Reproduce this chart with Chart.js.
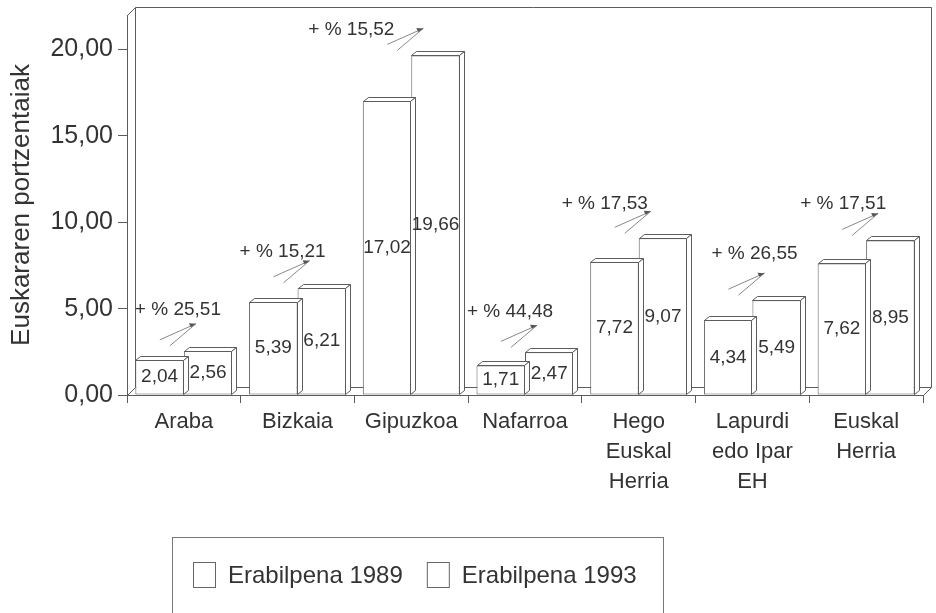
<!DOCTYPE html>
<html><head><meta charset="utf-8">
<script src="https://cdn.jsdelivr.net/npm/chart.js@4/dist/chart.umd.min.js"></script>
<style>html,body{margin:0;padding:0;background:#fff;overflow:hidden}#wrap{width:936px;height:613px}</style>
</head><body><div id="wrap"><canvas id="c" width="936" height="613"></canvas></div>
<script>
const categories = [['Araba'], ['Bizkaia'], ['Gipuzkoa'], ['Nafarroa'], ['Hego', 'Euskal', 'Herria'], ['Lapurdi', 'edo Ipar', 'EH'], ['Euskal', 'Herria']];
const seriesLabels = ['Erabilpena 1989', 'Erabilpena 1993'];
const use1989 = [2.04, 5.39, 17.02, 1.71, 7.72, 4.34, 7.62];
const use1993 = [2.56, 6.21, 19.66, 2.47, 9.07, 5.49, 8.95];
const growth = [25.51, 15.21, 15.52, 44.48, 17.53, 26.55, 17.51];
const yTicks = [0, 5, 10, 15, 20];
const yTitle = 'Euskararen portzentaiak';

const FONT = '"Liberation Sans", Arial, Helvetica, sans-serif';
const TEXT = '#333333';
const LINE = '#5c5c5c';
const fmt = v => v.toFixed(2).replace('.', ',');

// layout-only nudges for the growth annotations (pixels, relative to group centre / taller bar top)
const noteNudge = {
  dx: [-49, -58, -103, -58, -77, -41, -66],
  dy: [-41, -36, -26, -41, -35, -46, -37]
};
const wall = {dx: 8, dy: 8};
const depth = {dx: 5, dy: 4};

const pseudo3d = {
  id: 'pseudo3d',
  beforeDatasetsDraw(chart) {
    const {ctx, chartArea: a} = chart;
    const L = Math.round(a.left) + 0.5, R = Math.round(a.right) + 0.5, T = Math.round(a.top) + 0.5, B = Math.round(a.bottom) + 0.5;
    ctx.save();
    ctx.strokeStyle = LINE; ctx.lineWidth = 1;
    ctx.beginPath();
    ctx.moveTo(L, T); ctx.lineTo(L + wall.dx, T - wall.dy); ctx.lineTo(R + wall.dx, T - wall.dy); ctx.lineTo(R + wall.dx, B - wall.dy);
    ctx.moveTo(L + wall.dx, T - wall.dy); ctx.lineTo(L + wall.dx, B - wall.dy); ctx.lineTo(R + wall.dx, B - wall.dy); ctx.lineTo(R, B);
    ctx.moveTo(L, B); ctx.lineTo(L + wall.dx, B - wall.dy);
    ctx.stroke();
    ctx.restore();
  },
  afterDatasetDraw(chart, args) {
    const ctx = chart.ctx;
    ctx.save();
    ctx.strokeStyle = LINE; ctx.lineWidth = 1; ctx.fillStyle = '#ffffff';
    args.meta.data.forEach(bar => {
      const p = bar.getProps(['x', 'y', 'base', 'width'], true);
      const l = Math.round(p.x - p.width / 2) + 0.5, r = Math.round(p.x + p.width / 2) - 0.5;
      const t = Math.round(p.y) + 0.5, b = Math.round(p.base) - 0.5;
      ctx.beginPath();
      ctx.moveTo(l, t); ctx.lineTo(l + depth.dx, t - depth.dy); ctx.lineTo(r + depth.dx, t - depth.dy); ctx.lineTo(r, t); ctx.closePath();
      ctx.fill(); ctx.stroke();
      ctx.beginPath();
      ctx.moveTo(r, t); ctx.lineTo(r + depth.dx, t - depth.dy); ctx.lineTo(r + depth.dx, b - depth.dy); ctx.lineTo(r, b); ctx.closePath();
      ctx.fill(); ctx.stroke();
    });
    ctx.restore();
  },
  afterDraw(chart) {
    const ctx = chart.ctx;
    const xs = chart.scales.x, ys = chart.scales.y;
    ctx.save();
    // value labels
    ctx.fillStyle = TEXT; ctx.font = '19px ' + FONT; ctx.textAlign = 'center'; ctx.textBaseline = 'middle';
    chart.data.datasets.forEach((ds, di) => {
      chart.getDatasetMeta(di).data.forEach((bar, i) => {
        const p = bar.getProps(['x', 'y', 'base'], true);
        ctx.fillText(fmt(ds.data[i]), p.x, (p.y + p.base) / 2);
      });
    });
    // growth annotations
    ctx.textAlign = 'left';
    categories.forEach((c, i) => {
      const cx = xs.getPixelForValue(i);
      const top = ys.getPixelForValue(Math.max(use1989[i], use1993[i]));
      ctx.fillStyle = TEXT;
      ctx.fillText('+ % ' + fmt(growth[i]), cx + noteNudge.dx[i], top + noteNudge.dy[i]);
      // arrow
      const ex = cx + 12, ey = top - 27;
      ctx.strokeStyle = '#6a6a6a'; ctx.lineWidth = 0.8;
      ctx.beginPath();
      ctx.moveTo(cx - 24, top - 11); ctx.lineTo(ex, ey);
      ctx.moveTo(cx - 14, top - 5); ctx.lineTo(ex, ey);
      ctx.stroke();
      ctx.fillStyle = '#555';
      ctx.beginPath();
      ctx.moveTo(ex, ey); ctx.lineTo(ex - 7, ey - 0.5); ctx.lineTo(ex - 5, ey + 3.5); ctx.closePath(); ctx.fill();
    });
    // legend
    ctx.strokeStyle = '#777'; ctx.lineWidth = 1;
    ctx.strokeRect(172.5, 537.5, 491, 100);
    ctx.font = '24px ' + FONT; ctx.textBaseline = 'middle'; ctx.textAlign = 'left';
    let lx = 193;
    seriesLabels.forEach(lab => {
      ctx.strokeStyle = '#666';
      ctx.strokeRect(lx + 0.5, 562.5, 22, 25);
      ctx.fillStyle = TEXT;
      ctx.fillText(lab, lx + 35, 576);
      lx += 35 + ctx.measureText(lab).width + 24;
    });
    ctx.restore();
  }
};

new Chart(document.getElementById('c'), {
  type: 'bar',
  data: {
    labels: categories,
    datasets: [
      {label: seriesLabels[0], data: use1989, backgroundColor: '#ffffff', borderColor: LINE, borderWidth: 1, borderSkipped: false},
      {label: seriesLabels[1], data: use1993, backgroundColor: '#ffffff', borderColor: LINE, borderWidth: 1, borderSkipped: false}
    ]
  },
  options: {
    responsive: false, animation: false, devicePixelRatio: 1,
    datasets: {bar: {categoryPercentage: 0.853, barPercentage: 1.0}},
    layout: {padding: {left: 0, right: 13, top: 15, bottom: 0}},
    plugins: {legend: {display: false}, tooltip: {enabled: false}},
    scales: {
      x: {
        offset: true,
        grid: {display: true, offset: true, drawOnChartArea: false, drawTicks: true, tickLength: 8, color: LINE, lineWidth: 1},
        border: {display: true, color: LINE, width: 1},
        ticks: {color: TEXT, font: {family: FONT, size: 22, lineHeight: 1.364}, padding: 4, maxRotation: 0, autoSkip: false},
        afterFit(s) { s.height = 218; s.paddingLeft = 0; s.paddingRight = 0; }
      },
      y: {
        min: 0, max: 22,
        afterBuildTicks(s) { s.ticks = yTicks.map(v => ({value: v})); },
        grid: {drawOnChartArea: false, drawTicks: true, tickLength: 9, color: LINE},
        border: {display: true, color: LINE, width: 1},
        ticks: {color: TEXT, font: {family: FONT, size: 25}, padding: 5, callback: v => fmt(v)},
        title: {display: true, text: yTitle, color: TEXT, font: {family: FONT, size: 26}, padding: {top: 6, bottom: 0}},
        afterFit(s) { s.width = 127; s.paddingTop = 0; s.paddingBottom = 0; }
      }
    }
  },
  plugins: [pseudo3d]
});
</script>
</body></html>
